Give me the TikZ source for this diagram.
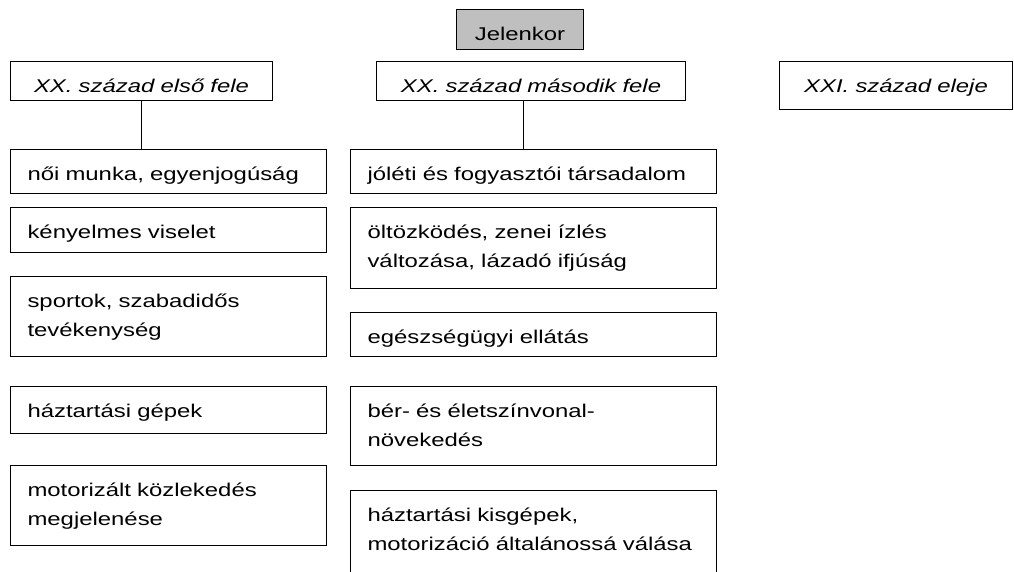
\documentclass[tikz,border=0pt]{standalone}
\usepackage{fontspec}
\setmainfont{Liberation Sans}[FakeStretch=1.295]

\begin{document}
\begin{tikzpicture}[
  every node/.style={font=\fontsize{10.5}{16.4}\selectfont},
  doboz/.style={draw, line width=0.6pt, anchor=north west, inner ysep=0pt, text height=0.62cm},
  fej/.style={doboz, inner xsep=0pt, align=center, font=\fontsize{10.5}{16.4}\selectfont\itshape},
  bal/.style={doboz, inner xsep=0.34cm, align=left, text width=5.64cm},
  jobb/.style={doboz, inner xsep=0.34cm, align=left, text width=6.64cm}]
\useasboundingbox (0,0) rectangle (20.28,-11.42);
\clip (0,0) rectangle (20.28,-11.42);

\node[fej, fill=gray!50, text width=2.54cm, text depth=0.18cm, font=\fontsize{10.5}{16.4}\selectfont] (jelen) at (9.12,-0.18) {Jelenkor};
\node[fej, text width=5.24cm, text depth=0.16cm] (elso) at (0.20,-1.22) {XX. század első fele};
\node[fej, text width=6.18cm, text depth=0.16cm] (masodik) at (7.52,-1.22) {XX. század második fele};
\node[fej, text width=4.66cm, text depth=0.34cm] (xxi) at (15.58,-1.22) {XXI. század eleje};


\node[bal, text depth=0.26cm] (noi) at (0.20,-2.98) {női munka, egyenjogúság};
\node[bal, text depth=0.28cm] (kenyelmes) at (0.20,-4.14) {kényelmes viselet};
\node[bal, text depth=0.98cm] (sport) at (0.20,-5.52) {sportok, szabadidős\\tevékenység};
\node[bal, text depth=0.32cm] (gepek) at (0.20,-7.72) {háztartási gépek};
\node[bal, text depth=0.98cm] (motor) at (0.20,-9.30) {motorizált közlekedés\\megjelenése};
\draw[line width=0.6pt] (elso.south) -- (elso.south |- noi.north);


\node[jobb, text depth=0.26cm] (joleti) at (7.00,-2.98) {jóléti és fogyasztói társadalom};
\node[jobb, text depth=1.00cm] (oltozkodes) at (7.00,-4.14) {öltözködés, zenei ízlés\\változása, lázadó ifjúság};
\node[jobb, text depth=0.26cm] (egeszseg) at (7.00,-6.24) {egészségügyi ellátás};
\node[jobb, text depth=0.96cm] (ber) at (7.00,-7.72) {bér- és életszínvonal-\\növekedés};
\node[jobb, text depth=1.60cm] (kisgep) at (7.00,-9.80) {háztartási kisgépek,\\motorizáció általánossá válása};
\coordinate (m) at ([xshift=-0.15cm]masodik.south);
\draw[line width=0.6pt] (m) -- (m |- joleti.north);

\end{tikzpicture}
\end{document}
